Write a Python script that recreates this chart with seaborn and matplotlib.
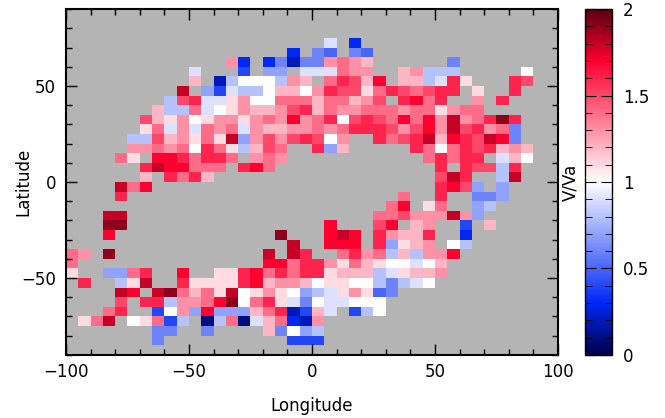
import numpy as np
import pandas as pd
import matplotlib
matplotlib.use('Agg')
import matplotlib.pyplot as plt
import seaborn as sns
from matplotlib.colors import LinearSegmentedColormap
from matplotlib.ticker import FixedLocator, MultipleLocator

# 5x5 degree cells, lon -100..100, lat 90..-90
lon_edges = np.arange(-100, 101, 5)
lat_edges = np.arange(90, -91, -5)
lon = lon_edges[:-1] + 2.5
lat = lat_edges[:-1] - 2.5

# V/Va per cell, top row = lat 90..85; '.' = no data, '0'..'k' = 0.0..2.0 in steps of 0.1
rows = [
    "..... ..... ..... ..... ..... ..... ..... .....",
    "..... ..... ..... ..... ..... ..... ..... .....",
    "..... ..... ..... ..... ..... ..... ..... .....",
    "..... ..... ..... ..... .9.3. ..... ..... .....",
    "..... ..... ..... ...3. 65.65 ..... ..... .....",
    "..... ..... ...d3 .3626 6dedc ..... .6... .....",
    "..... ..... 9...4 .77.9 99edd ..cd8 88... ..a..",
    "..... ..... c.28a aa8dc .egfc h.cc8 9gb.. .gf..",
    "..... ....i .7498 8acca dgffb egfef gg.b. .g...",
    "..... ...8f g99bd aaeee ceecd f.ghe g..d. g....",
    "..... ..c88 e9abd ccdfg cedde eedee bdee. .....",
    "..... .fcbd abddb dedhd egafg feheh dideg jg...",
    "..... .be9d 9ede9 dccdd edegg gfdfh difgd e6...",
    "..... 88fcd bebi7 dfdfg fad.. gefgi chgfi h6...",
    "..... ddede ageb8 cfe.. g7c.. ...ge aegfg cdc..",
    "....e b.hhg egge. ded.. ..... ....e gegg. 9ca..",
    "..... .gihh eee.g he... ..... ..... g.gff 8g...",
    "..... .c.ge gc... ..... ..... ..... fig.. 8i...",
    "....i eh... ..... ..... ..... ..... ghf7. 7....",
    "....g ..... ..... ..... ..... ..e.. g..66 7....",
    "..... ..... ..... ..... ..... .eh.b e..78 .....",
    "...ii ..... ..... ..... ..... eefdd did7. .....",
    "...jj ..... ..... ..... .h... fh.cd ..4.c .....",
    "...h. ..... ..... ..j.. .hih. gdccg ..3.. .....",
    "..... ..... ..... ...i. .hhh. g7bcd .a8.. .....",
    "ed.j. ..... ..... .i.ig ..egd e8c8d dh... .....",
    "e.... ..... ..... .hheg gdbec baa9a c.... .....",
    "b..77 eg..h ..bbg hegeg gbccc 89bcc d.... .....",
    ".g..8 bi..g bbbbg hcddc abbaa 8689a ..... .....",
    "....i h.ije cebia bdba7 89bdb 56... ..... .....",
    "....f .gg8d dehja egb96 a99aa a.... ..... .....",
    "...eg ..4ad 7h777 ceg24 c9.48 a.... ..... .....",
    ".bei. abe48 .18e1 9ce32 d.... ..... ..... .....",
    "..... ..66. .6... .c6a7 8.... ..... ..... .....",
    "..... ..6.. ..... ...44 4.... ..... ..... .....",
    "..... ..... ..... ..... ..... ..... ..... .....",
]

codes = '0123456789abcdefghijk'
grid = [[np.nan if c == '.' else codes.index(c) / 10 for c in r.replace(' ', '')] for r in rows]
df = pd.DataFrame(grid, index=lat, columns=lon)

lon_ticks = [-100, -50, 0, 50, 100]
lat_ticks = [-50, 0, 50]
cbar_ticks = [0, 0.5, 1, 1.5, 2]
cbar_labels = ['0', '0.5', '1', '1.5', '2']

cmap = LinearSegmentedColormap.from_list('bwr_idl', [
    (0.0, '#00004a'), (0.15, '#0028f5'), (0.5, '#ffffff'),
    (0.85, '#ff0030'), (1.0, '#5c0010')])

plt.rcParams['font.family'] = ['DejaVu Sans']

fig = plt.figure(figsize=(6.65, 4.18), dpi=100)
ax = fig.add_axes([0.0992, 0.151, 0.7398, 0.827])
cax = fig.add_axes([0.8797, 0.151, 0.0406, 0.827])

sns.heatmap(df, ax=ax, cbar_ax=cax, cmap=cmap, vmin=0, vmax=2,
            xticklabels=False, yticklabels=False)
ax.set_facecolor('#b4b4b4')

def xpos(v):
    return (v + 100) / 5

def ypos(v):
    return (90 - v) / 5

ax.set_xticks([xpos(v) for v in lon_ticks])
ax.set_xticklabels([str(v).replace('-', '\u2212') for v in lon_ticks], fontsize=12)
ax.xaxis.set_minor_locator(FixedLocator([xpos(v) for v in range(-100, 101, 10)]))
ax.set_yticks([ypos(v) for v in lat_ticks])
ax.set_yticklabels([str(v).replace('-', '\u2212') for v in lat_ticks], fontsize=12, rotation=0)
ax.yaxis.set_minor_locator(FixedLocator([ypos(v) for v in range(-90, 91, 10)]))
ax.tick_params(which='both', direction='in', top=True, right=True, width=1)
ax.tick_params(which='major', length=8)
ax.tick_params(which='minor', length=4)
ax.tick_params(axis='x', pad=6)
ax.tick_params(axis='y', pad=7)
for s in ax.spines.values():
    s.set_visible(True)
    s.set_linewidth(1.5)
ax.set_xlabel('Longitude', fontsize=12)
ax.set_ylabel('Latitude', fontsize=12, rotation=90)
ax.xaxis.set_label_coords(0.5, -0.122)
ax.yaxis.set_label_coords(-0.069, 0.5)

cbar = ax.collections[0].colorbar
cbar.set_ticks(cbar_ticks)
cbar.set_ticklabels(cbar_labels)
cax.yaxis.set_minor_locator(MultipleLocator(0.1))
cax.tick_params(which='both', direction='in', left=True, right=True, labelsize=12, pad=8)
cax.tick_params(which='major', length=8)
cax.tick_params(which='minor', length=5)
cbar.outline.set_linewidth(1)
cbar.set_label('V/Va', fontsize=12, labelpad=4)
cax.yaxis.set_label_position('left')

fig.savefig('out.png', dpi=100)
